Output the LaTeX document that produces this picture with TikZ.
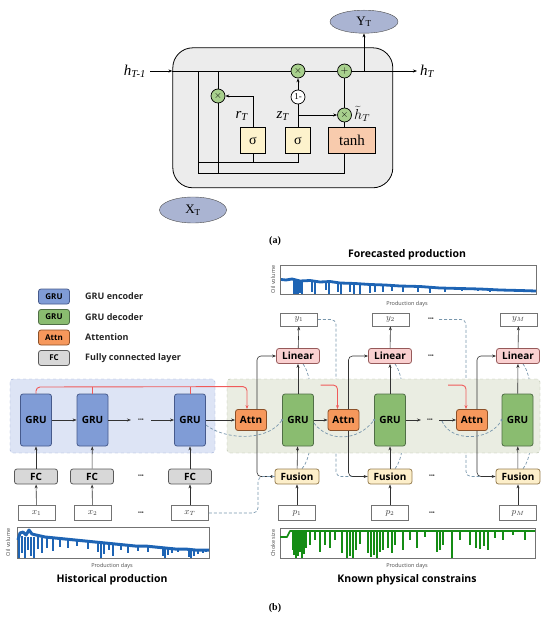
\documentclass[tikz,border=0pt]{standalone}
\usepackage{fontspec}
\setmainfont{Liberation Serif}
\newfontfamily\osans{Open Sans}
\usetikzlibrary{calc,shapes.geometric,arrows.meta,backgrounds}
\definecolor{encf}{RGB}{128,156,214}
\definecolor{encd}{RGB}{70,90,140}
\definecolor{decf}{RGB}{138,188,112}
\definecolor{decd}{RGB}{80,110,70}
\definecolor{attf}{RGB}{246,152,92}
\definecolor{attd}{RGB}{140,80,40}
\definecolor{fcf}{RGB}{216,216,216}
\definecolor{fcd}{RGB}{90,90,90}
\definecolor{linf}{RGB}{250,208,208}
\definecolor{lind}{RGB}{150,90,90}
\definecolor{fusf}{RGB}{253,239,202}
\definecolor{fusd}{RGB}{150,125,80}
\definecolor{bgb}{RGB}{221,228,245}
\definecolor{bgbd}{RGB}{150,165,210}
\definecolor{bgg}{RGB}{234,237,226}
\definecolor{bggd}{RGB}{175,185,160}
\definecolor{redl}{RGB}{240,90,90}
\definecolor{dashc}{RGB}{120,150,172}
\definecolor{cellg}{RGB}{236,236,236}
\definecolor{gcirc}{RGB}{168,208,141}
\definecolor{sigf}{RGB}{253,242,204}
\definecolor{tanhf}{RGB}{248,203,173}
\definecolor{ellf}{RGB}{170,180,210}
\definecolor{plotb}{RGB}{30,100,180}
\definecolor{plotg}{RGB}{20,140,20}
\begin{document}
\begin{tikzpicture}[x=1pt,y=-1pt,>={Stealth[length=4pt,width=3pt]},
  bx/.style={rectangle, inner sep=0pt, rounded corners=2.5pt, line width=0.8pt, font=\osans\bfseries\fontsize{10}{12}\selectfont},
  genc/.style={bx, fill=encf, draw=encd, minimum width=31pt, minimum height=52pt},
  gdec/.style={bx, fill=decf, draw=decd, minimum width=31pt, minimum height=52pt},
  attnb/.style={bx, fill=attf, draw=attd, minimum width=31pt, minimum height=21pt},
  fcb/.style={bx, fill=fcf, draw=fcd, minimum width=43pt, minimum height=15pt},
  linb/.style={bx, fill=linf, draw=lind, minimum width=43pt, minimum height=15pt},
  fusb/.style={bx, fill=fusf, draw=fusd, minimum width=44pt, minimum height=15pt},
  valb/.style={rectangle, inner sep=0pt, draw=black!55, fill=white, line width=0.6pt, minimum width=37pt, minimum height=15pt, font=\fontsize{9}{10}\selectfont, text=black!75},
  legb/.style={bx, minimum width=31pt, minimum height=15pt, font=\osans\bfseries\fontsize{8}{9}\selectfont},
  legt/.style={anchor=west, font=\osans\bfseries\fontsize{9}{10}\selectfont, inner sep=0pt, text=black!85},
  ar/.style={->, line width=0.6pt, draw=black!80},
  ln/.style={line width=0.6pt, draw=black!80},
  redar/.style={->, line width=0.9pt, draw=redl, rounded corners=4pt},
  dsh/.style={dashed, dash pattern=on 3pt off 2pt, draw=dashc, line width=0.7pt},
  dotsn/.style={inner sep=0pt, font=\osans\bfseries\fontsize{5}{5}\selectfont, text=black!80},
  small/.style={inner sep=0pt, font=\osans\fontsize{5.5}{6}\selectfont, text=black!70},
  ttl/.style={inner sep=0pt, font=\osans\bfseries\fontsize{10.5}{12}\selectfont},
  opc/.style={circle, draw, fill=gcirc, minimum size=14pt, inner sep=0pt, line width=0.7pt, font=\fontsize{10}{10}\selectfont},
  sig/.style={rectangle, draw, fill=sigf, minimum width=25pt, minimum height=26pt, line width=0.8pt, inner sep=0pt, font=\fontsize{14}{14}\selectfont},
  cl/.style={line width=0.8pt},
  cla/.style={->, line width=0.8pt}
]
\useasboundingbox (0,0) rectangle (550,617);

%================ (a) GRU cell ================
\node[draw, fill=cellg, rounded corners=20pt, line width=0.8pt, minimum width=220pt, minimum height=140pt, inner sep=0pt] (cell) at (282.8,117.8) {};
\node[ellipse, draw=black!70, fill=ellf, minimum width=68pt, minimum height=23pt, inner sep=0pt, font=\fontsize{13}{13}\selectfont] (Y) at (364,21.7) {Y\textsubscript{T}};
\node[ellipse, draw=black!70, fill=ellf, minimum width=67pt, minimum height=26pt, inner sep=0pt, font=\fontsize{13}{13}\selectfont] (X) at (193,210) {X\textsubscript{T}};
\coordinate (hin) at (150,71);
\coordinate (hout) at (417,71);
\node[anchor=east, inner sep=0pt, font=\fontsize{15}{15}\selectfont] (hinl) at (146,71) {\textit{h}\textsubscript{\textit{T-1}}};
\node[anchor=west, inner sep=0pt, font=\fontsize{15}{15}\selectfont] (houtl) at (420,71) {\textit{h}\textsubscript{\textit{T}}};
\node[opc] (m1) at (298,71) {$\times$};
\node[opc] (a1) at (344.5,71) {$+$};
\node[opc] (m2) at (218,96) {$\times$};
\node[opc, fill=white, font=\fontsize{9}{9}\selectfont] (one) at (298,97) {1-};
\node[opc] (m3) at (344.5,115) {$\times$};
\node[sig] (s1) at (253,140.5) {σ};
\node[sig] (s2) at (298,140.5) {σ};
\node[sig, fill=tanhf, minimum width=47pt, font=\fontsize{15}{15}\selectfont] (tanh) at (352,140.5) {tanh};
\node[inner sep=0pt, font=\fontsize{15}{15}\selectfont] (rl) at (242,116) {\textit{r}\textsubscript{\textit{T}}};
\node[inner sep=0pt, font=\fontsize{15}{15}\selectfont] (zl) at (283,116) {\textit{z}\textsubscript{\textit{T}}};
\node[anchor=west, inner sep=0pt, font=\fontsize{14}{14}\selectfont] (hl) at (354,114) {$\widetilde{h}_{T}$};
\coordinate (v1t) at (198,71);
\coordinate (v1b) at (198,173);
\coordinate (r2) at (198,162);
\draw[cla] (hin) -- (cell.west |- hin);
\draw[cl] (cell.west |- hin) -- (m1);
\draw[cl] (m1) -- (a1);
\draw[cla] (a1) -- (hout);
\draw[cla] (Y.south |- hin) -- (Y.south);
\draw[cl] (v1t) -- (v1b);
\draw[cl] (m2.north |- hin) -- (m2);
\draw[cl] (m2) -- (m2.south |- v1b);
\draw[cl] (v1b) -| ($(tanh.south)+(-7.5,0)$);
\draw[cl] (r2) -| (s2.south);
\draw[cl] (s1.south) -- (s1.south |- r2);
\draw[cla] (s1.north) |- (m2.east);
\draw[cl] (s2.north) -- (one);
\draw[cla] (one) -- (m1);
\draw[cla] (s2.north |- m3) -- (m3);
\draw[cl] (tanh.north -| m3) -- (m3);
\draw[cl] (m3) -- (a1);
\node[inner sep=0pt, font=\bfseries\fontsize{10}{12}\selectfont] (la) at (275,241) {(a)};

%================ (b) ================
% legend
\node[legb, fill=encf, draw=encd] (lg1) at (54,296.5) {GRU};
\node[legb, fill=decf, draw=decd] (lg2) at (54,317) {GRU};
\node[legb, fill=attf, draw=attd] (lg3) at (54,337.5) {Attn};
\node[legb, fill=fcf, draw=fcd] (lg4) at (54,358) {FC};
\node[legt] (lt1) at (85,296.5) {GRU encoder};
\node[legt] (lt2) at (85,317) {GRU decoder};
\node[legt] (lt3) at (85,337.5) {Attention};
\node[legt] (lt4) at (85,358) {Fully connected layer};

% encoder
\node[genc] (e1) at (36,420) {GRU};
\node[genc] (e2) at (92.5,420) {GRU};
\node[genc] (e3) at (190,420) {GRU};
\node[dotsn] (de) at (141,420) {•••};
\node[fcb] (f1) at (36,476.5) {FC};
\node[fcb] (f2) at (92,476.5) {FC};
\node[fcb] (f3) at (190,476.5) {FC};
\node[dotsn] (df) at (141,476.5) {•••};
\node[valb] (x1) at (36.5,513) {$x_1$};
\node[valb] (x2) at (92.5,513) {$x_2$};
\node[valb] (x3) at (190,513) {$x_T$};
\node[dotsn] (dx) at (141,513) {•••};

% decoder
\node[attnb] (at1) at (251,420) {Attn};
\node[gdec] (g1) at (298,420) {GRU};
\node[attnb] (at2) at (343.5,420) {Attn};
\node[gdec] (g2) at (390,420) {GRU};
\node[dotsn] (dg) at (430,420) {•••};
\node[attnb] (at3) at (472,420) {Attn};
\node[gdec] (g3) at (517.5,420) {GRU};
\node[linb] (l1) at (298,356) {Linear};
\node[linb] (l2) at (390,356) {Linear};
\node[linb] (l3) at (518,356) {Linear};
\node[dotsn] (dl) at (431,356) {•••};
\node[valb, minimum height=13pt] (y1) at (299,319.5) {$y_1$};
\node[valb, minimum height=13pt] (y2) at (390.5,319.5) {$y_2$};
\node[valb, minimum height=13pt] (y3) at (518.5,319.5) {$y_M$};
\node[dotsn] (dy) at (431,319.5) {•••};
\node[fusb] (u1) at (297,476.5) {Fusion};
\node[fusb] (u2) at (390,476.5) {Fusion};
\node[fusb] (u3) at (518,476.5) {Fusion};
\node[dotsn] (du) at (432,476.5) {•••};
\node[valb] (p1) at (297,513) {$p_1$};
\node[valb] (p2) at (390,513) {$p_2$};
\node[valb] (p3) at (518,513) {$p_M$};
\node[dotsn] (dp) at (432,513) {•••};

\begin{scope}[on background layer]
  % hidden dashed paths (under the panels)
  \draw[dsh, rounded corners=5pt] (y1.east) -- (336,319.5) -- (336,476.5) -- (u2.west);
  \draw[dsh, rounded corners=5pt] (dy.east) ++(5,0) -- (466,319.5) -- (466,476.5) -- (u3.west);
  \draw[dsh] ($(u1.north)+(5,0)$) .. controls (316,455) and (316,380) .. ($(l1.south)+(5,0)$);
  \draw[dsh] ($(u2.north)+(5,0)$) .. controls (408,455) and (408,380) .. ($(l2.south)+(5,0)$);
  \draw[dsh] ($(u3.north)+(5,0)$) .. controls (536,455) and (536,380) .. ($(l3.south)+(5,0)$);
  % panels
  \node[draw=bgbd, fill=bgb, dashed, rounded corners=3pt, minimum width=205pt, minimum height=74pt, inner sep=0pt] (bgE) at (112.5,416) {};
  \node[draw=bggd, fill=bgg, dashed, rounded corners=3pt, minimum width=313pt, minimum height=74pt, inner sep=0pt] (bgD) at (383.5,416) {};
\end{scope}

% encoder edges
\draw[ar] (e1) -- (e2);
\draw[ar] (e2) -- ($(de.west)+(-7,0)$);
\draw[ar] ($(de.east)+(7,0)$) -- (e3);
\draw[ar] (e3) -- (at1);
\foreach \a/\b in {f1/e1,f2/e2,f3/e3,x1/f1,x2/f2,x3/f3}{\draw[ar] (\a) -- (\b);}
% red attention feeds
\draw[redar] (e1.north) -- (36,387) -- ($(at1.north)+(-4,-22.5)$) -- ($(at1.north)+(-4,0)$);
\draw[line width=0.9pt, draw=redl] (e2.north) -- (e2.north |- 0,387);
\draw[line width=0.9pt, draw=redl] (e3.north) -- (e3.north |- 0,387);
\draw[redar] ($(at2.north)+(-23,-24)$) -- ($(at2.north)+(-6,-24)$) -- ($(at2.north)+(-6,0)$);
\draw[redar] ($(at3.north)+(-24,-24)$) -- ($(at3.north)+(-6,-24)$) -- ($(at3.north)+(-6,0)$);
% decoder edges
\foreach \a/\b in {p1/u1,p2/u2,p3/u3,u1/g1,u2/g2,u3/g3,g1/l1,g2/l2,g3/l3,l1/y1,l2/y2,l3/y3}{\draw[ar] (\a) -- (\b);}
\draw[ar] (g1) -- (at2);
\draw[ar] (g2) -- ($(dg.west)+(-6,0)$);
\draw[ar] ($(dg.east)+(6,0)$) -- (at3);
\draw[ar, rounded corners=4pt] ($(at1.north)+(6,0)$) |- (l1.west);
\draw[ar, rounded corners=4pt] ($(at1.south)+(6,0)$) |- (u1.west);
\draw[ar, rounded corners=4pt] ($(at2.north)+(5,0)$) |- (l2.west);
\draw[ar, rounded corners=4pt] ($(at2.south)+(5,0)$) |- (u2.west);
\draw[ar, rounded corners=4pt] ($(at3.north)+(5,0)$) |- (l3.west);
\draw[ar, rounded corners=4pt] ($(at3.south)+(5,0)$) |- (u3.west);
% visible dashed state paths
\draw[dsh, rounded corners=5pt] (x3.east) -- (258,513) -- (258,476.5) -- (u1.west);
\draw[dsh] ($(e3.east)+(0,5)$) .. controls (225,440) and (268,442) .. (g1.west);
\draw[dsh] ($(g1.east)+(0,3)$) .. controls (328,442) and (358,442) .. (g2.west);
\draw[dsh] (442,421) .. controls (450,442) and (490,442) .. (g3.west);
\foreach \n in {g1,g2,g3}{\fill[dashc] (\n.west) circle (1.3pt);}

% forecasted plot
\node[ttl] (tf) at (407,255) {Forecasted production};
\node[draw=black!55, line width=0.6pt, minimum width=256pt, minimum height=29pt, inner sep=0pt] (pf) at (408,279.5) {};
\node[small, rotate=90] (pfy) at (273,279.5) {Oil volume};
\node[small] (pfx) at (407,304) {Production days};
\begin{scope}
\clip (pf.south west) rectangle (pf.north east);
\draw[plotb, line width=2.8pt, line join=round] (281,279.5) -- (286,280) -- (292,279) -- (300,281) -- (310,280.5) -- (320,282) -- (330,281.5) -- (340,283) -- (355,283.5) -- (370,284.5) -- (385,285) -- (400,286) -- (420,286.5) -- (440,288) -- (460,288.5) -- (480,289) -- (500,290) -- (520,290.5) -- (536,291);
\foreach \x/\b in {294/294,296/294,298/294,300/293,302/294,312/292,315/294,326/290,329/294,338/292,341/294,350/292,354/294,360/294,370/293,375/292,383/292,392/291,403/292,418/292,430/293,445/292,462/291,478/291,490/292,505/291}
  \draw[plotb, line width=2pt] (\x,{279.5+12*(\x-281)/255}) -- (\x,\b);
\end{scope}

% historical plot
\node[draw=black!55, line width=0.6pt, minimum width=192pt, minimum height=31pt, inner sep=0pt] (ph) at (113,542.5) {};
\node[small, rotate=90] (phy) at (8,542.5) {Oil volume};
\node[small] (phx) at (112,566) {Production days};
\node[ttl] (th) at (112,580) {Historical production};
\begin{scope}
\clip (ph.south west) rectangle (ph.north east);
\draw[plotb, line width=3pt, line join=round] (18,540) -- (20,533) -- (23,532) -- (26,535) -- (29,530) -- (32,534) -- (36,535) -- (45,537) -- (55,538) -- (65,539) -- (75,540) -- (85,541) -- (95,542) -- (105,543) -- (115,544) -- (125,545) -- (135,546) -- (145,546) -- (155,547) -- (165,548) -- (175,549) -- (185,549) -- (195,550) -- (209,550);
\foreach \x/\b in {19/558,22/553,25/558,28/550,31/556,34/558,38/549,42/553,47/548,53/551,60/547,68/548,77/546,88/549,98/552,101/558,104/554,109/550,113/556,121/550,128/553,138/551,148/552,163/556,165/558,168/555,172/553,178/552,189/557,191/558,194/556,198/554,203/553,206/552}
  \draw[plotb, line width=2pt] (\x,{536+14*(\x-18)/191}) -- (\x,\b);
\end{scope}

% choke plot
\node[draw=black!55, line width=0.6pt, minimum width=255pt, minimum height=30pt, inner sep=0pt] (pc) at (407.5,543) {};
\node[small, rotate=90] (pcy) at (273,543) {Choke size};
\node[small] (pcx) at (407,566) {Production days};
\node[ttl] (tc) at (407,580) {Known physical constrains};
\begin{scope}
\clip (pc.south west) rectangle (pc.north east);
\draw[plotg, line width=1.6pt, line join=round] (280,537) -- (287,537) -- (290,531) -- (535,531);
\foreach \x/\b in {293/550,294/555,296/558,298/556,300/552,302/558,304/554,306/548,310/545,315/540,320/552,325/545,330/548,335/540,342/553,347/558,350/556,353/558,356/550,360/544,368/553,371/557,374/555,377/558,380/552,383/550,388/548,392/553,395/545,403/550,410/540,417/548,425/537,437/552,440/550,443/545,452/558,460/540,470/545,476/548,480/549,484/546,488/550,495/538,503/540,513/535,525/540}
  \draw[plotg, line width=1.6pt] (\x,531) -- (\x,\b);
\end{scope}

\node[inner sep=0pt, font=\bfseries\fontsize{10}{12}\selectfont] (lb) at (275,608) {(b)};
\end{tikzpicture}
\end{document}
